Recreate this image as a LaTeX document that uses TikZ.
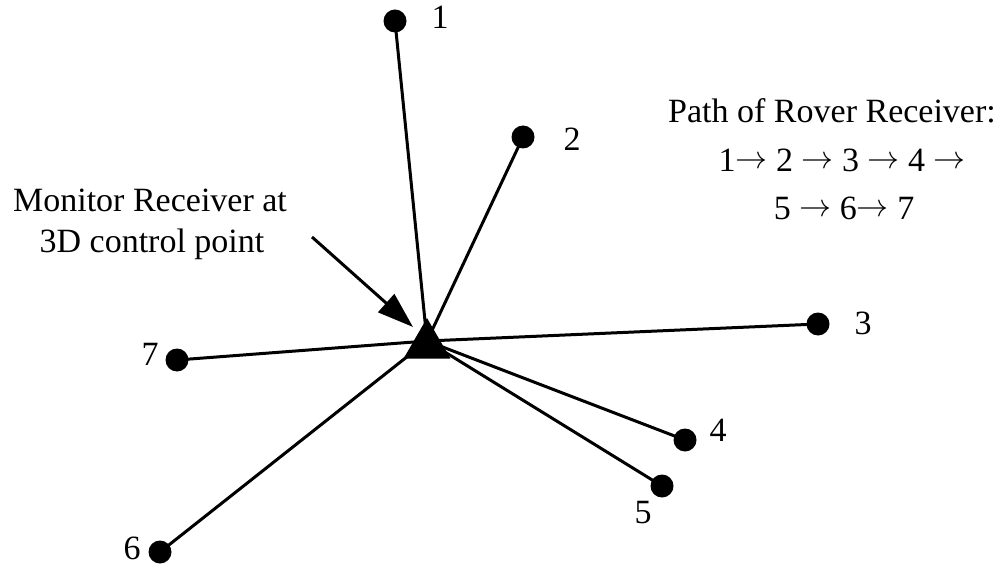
\documentclass[tikz,border=0pt]{standalone}
\usepackage{fontspec}
\usepackage{graphicx}
\setmainfont{Liberation Serif}
\usetikzlibrary{arrows.meta,shapes.geometric}
\newcommand{\rarr}{\raisebox{3pt}{\resizebox{32pt}{!}{$\rightarrow$}}}
\tikzset{
  dot/.style={circle,fill=black,minimum size=23pt,inner sep=0pt},
  lbl/.style={inner sep=0pt,font=\fontsize{34pt}{40pt}\selectfont},
  txt/.style={inner sep=0pt,anchor=base,font=\fontsize{34pt}{40pt}\selectfont},
  spoke/.style={line width=3pt},
  pointer/.style={line width=3pt,-{Triangle[length=36pt,width=24pt]}}
}
\begin{document}
\begin{tikzpicture}[x=1pt,y=-1pt]
\useasboundingbox (0,0) rectangle (1000,569);
\coordinate (c) at (427,341);
\node[dot] (p1) at (395,21) {};
\node[dot] (p2) at (523,137) {};
\node[dot] (p3) at (818,324) {};
\node[dot] (p4) at (685,440) {};
\node[dot] (p5) at (662,486) {};
\node[dot] (p6) at (160,552) {};
\node[dot] (p7) at (177,360) {};
\foreach \i in {1,...,7} \draw[spoke] (p\i.center) -- (c);
\node[regular polygon,regular polygon sides=3,fill=black,inner sep=0pt,minimum size=54pt] (mon) at (427,345) {};
\node[lbl] (l1) at (440,17) {1};
\node[lbl] (l2) at (572,139) {2};
\node[lbl] (l3) at (863,323) {3};
\node[lbl] (l4) at (718,430) {4};
\node[lbl] (l5) at (643,513) {5};
\node[lbl] (l6) at (132,548) {6};
\node[lbl] (l7) at (150,354) {7};
\node[txt] (m1) at (150,212) {Monitor Receiver at};
\node[txt] (m2) at (152,252) {3D control point};
\coordinate (as) at (312,237);
\coordinate (at) at (413,327);
\draw[pointer] (as) -- (at);
\node[txt] (r1) at (832,123) {Path of Rover Receiver:};
\node[txt] (r2) at (842,172) {1\rarr{} 2 \rarr{} 3 \rarr{} 4 \rarr};
\node[txt] (r3) at (844,220) {5 \rarr{} 6\rarr{} 7};
\end{tikzpicture}
\end{document}
